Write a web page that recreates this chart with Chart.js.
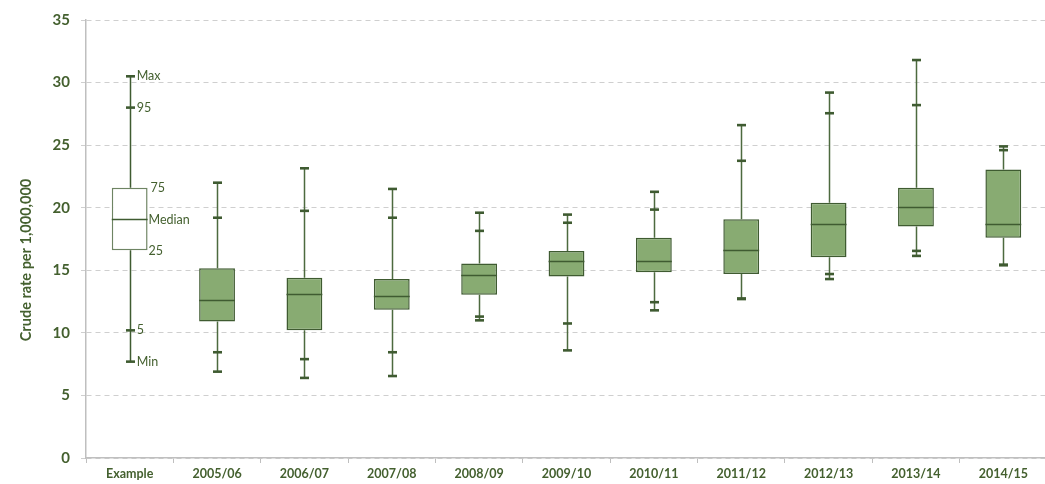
<!DOCTYPE html>
<html>
<head>
<meta charset="utf-8">
<script src="https://cdn.jsdelivr.net/npm/chart.js@4.4.1/dist/chart.umd.min.js"></script>
<style>
  html, body { margin: 0; padding: 0; background: #fff; overflow: hidden; }
  #wrap { width: 1047px; height: 484px; }
</style>
</head>
<body>
<div id="wrap"><canvas id="c" width="1047" height="484"></canvas></div>
<script>
// Crude rate per 1,000,000 — distribution summary per year
const categories = ['Example', '2005/06', '2006/07', '2007/08', '2008/09', '2009/10',
                    '2010/11', '2011/12', '2012/13', '2013/14', '2014/15'];
const minValues    = [7.7, 6.9, 6.4, 6.55, 11.0, 8.6, 11.8, 12.7, 14.3, 16.15, 15.4];
const p5Values     = [10.2, 8.45, 7.9, 8.45, 11.3, 10.75, 12.45, 12.75, 14.7, 16.55, 15.45];
const q1Values     = [16.6, 10.9, 10.2, 11.85, 13.05, 14.5, 14.85, 14.7, 16.05, 18.5, 17.6];
const medianValues = [19.1, 12.65, 13.1, 12.95, 14.6, 15.75, 15.72, 16.6, 18.72, 20.02, 18.67];
const q3Values     = [21.6, 15.17, 14.4, 14.3, 15.55, 16.55, 17.6, 19.07, 20.4, 21.6, 23.05];
const p95Values    = [28.0, 19.2, 19.75, 19.2, 18.15, 18.8, 19.85, 23.75, 27.55, 28.2, 24.6];
const maxValues    = [30.5, 22.0, 23.15, 21.5, 19.6, 19.45, 21.27, 26.6, 29.2, 31.8, 24.9];
const yTicks = [0, 5, 10, 15, 20, 25, 30, 35];
const yTitle = 'Crude rate per 1,000,000';
const keyLabels = { max: 'Max', p95: '95', q3: '75', median: 'Median', q1: '25', p5: '5', min: 'Min' };

const GREEN_TEXT = '#44602f';
const GREEN_DARK = '#3f5b31';
const BOX_FILL = '#88ab72';
const KEY_BORDER = '#6e8463';
const FONT = 'Lato, "Open Sans", "DejaVu Sans", sans-serif';

const boxData = categories.map((_, i) => [q1Values[i], q3Values[i]]);

// Whiskers behind the boxes, median lines and key labels over them
const boxPlotPlugin = {
  id: 'boxPlotParts',
  beforeDatasetsDraw(chart) {
    const { ctx, scales: { x, y } } = chart;
    ctx.save();
    categories.forEach((_, i) => {
      const cx = Math.round(x.getPixelForValue(i)) + 0.5;
      ctx.strokeStyle = i === 0 ? GREEN_DARK : '#4d6a3f';
      ctx.lineWidth = 1.5;
      ctx.beginPath();
      ctx.moveTo(cx, y.getPixelForValue(minValues[i]));
      ctx.lineTo(cx, y.getPixelForValue(q1Values[i]));
      ctx.moveTo(cx, y.getPixelForValue(q3Values[i]));
      ctx.lineTo(cx, y.getPixelForValue(maxValues[i]));
      ctx.stroke();
      ctx.strokeStyle = GREEN_DARK;
      ctx.lineWidth = 2.6;
      [minValues[i], p5Values[i], p95Values[i], maxValues[i]].forEach(v => {
        const py = y.getPixelForValue(v);
        ctx.beginPath();
        ctx.moveTo(cx - 4.5, py);
        ctx.lineTo(cx + 4.5, py);
        ctx.stroke();
      });
    });
    ctx.restore();
  },
  afterDatasetsDraw(chart) {
    const { ctx, scales: { x, y } } = chart;
    const meta = chart.getDatasetMeta(0);
    ctx.save();
    meta.data.forEach((bar, i) => {
      const half = bar.width / 2;
      const py = Math.round(y.getPixelForValue(medianValues[i])) + 0.5;
      ctx.strokeStyle = GREEN_DARK;
      ctx.lineWidth = 1.5;
      ctx.beginPath();
      ctx.moveTo(bar.x - half, py);
      ctx.lineTo(bar.x + half, py);
      ctx.stroke();
    });
    // key labels beside the example box
    const bar0 = meta.data[0];
    const cx = x.getPixelForValue(0);
    const boxRight = bar0.x + bar0.width / 2;
    ctx.fillStyle = GREEN_TEXT;
    ctx.font = '12.5px ' + FONT;
    ctx.textBaseline = 'middle';
    ctx.textAlign = 'left';
    ctx.fillText(keyLabels.max, cx + 7, y.getPixelForValue(maxValues[0]));
    ctx.fillText(keyLabels.p95, cx + 7, y.getPixelForValue(p95Values[0]));
    ctx.fillText(keyLabels.p5, cx + 7, y.getPixelForValue(p5Values[0]));
    ctx.fillText(keyLabels.min, cx + 7, y.getPixelForValue(minValues[0]));
    ctx.fillText(keyLabels.q3, boxRight + 3, y.getPixelForValue(q3Values[0]));
    ctx.fillText(keyLabels.median, boxRight + 1, y.getPixelForValue(medianValues[0]) + 1);
    ctx.fillText(keyLabels.q1, boxRight + 1, y.getPixelForValue(q1Values[0]) + 1);

    // vertical axis title, set slightly below the plot's middle
    ctx.save();
    ctx.translate(26, (y.top + y.bottom) / 2 + 21);
    ctx.rotate(-Math.PI / 2);
    ctx.textAlign = 'center';
    ctx.textBaseline = 'middle';
    ctx.font = 'bold 14.5px ' + FONT;
    ctx.fillText(yTitle, 0, 0);
    ctx.restore();
    ctx.restore();
  }
};

new Chart(document.getElementById('c'), {
  type: 'bar',
  data: {
    labels: categories,
    datasets: [{
      data: boxData,
      backgroundColor: categories.map((_, i) => i === 0 ? '#ffffff' : BOX_FILL),
      borderColor: categories.map((_, i) => i === 0 ? KEY_BORDER : GREEN_DARK),
      borderWidth: 1.5,
      borderSkipped: false,
      barPercentage: 0.41,
      categoryPercentage: 1.0
    }]
  },
  options: {
    responsive: false,
    animation: false,
    devicePixelRatio: 1,
    layout: { padding: { top: 10, right: 0, bottom: 0, left: 0 } },
    plugins: { legend: { display: false }, tooltip: { enabled: false } },
    scales: {
      x: {
        offset: true,
        grid: {
          offset: true,
          drawOnChartArea: false,
          color: '#bfbfbf',
          tickLength: 5,
          lineWidth: 1
        },
        border: { color: '#bfbfbf', width: 1.5 },
        ticks: {
          color: GREEN_TEXT,
          font: { family: FONT, size: 12.5, weight: 'bold' },
          padding: 3,
          maxRotation: 0
        }
      },
      y: {
        min: 0,
        max: 35,
        afterBuildTicks(axis) { axis.ticks = yTicks.map(v => ({ value: v })); },
        afterFit(axis) { axis.width = 86; },
        grid: {
          color: '#cfcfcf',
          lineWidth: 1,
          tickLength: 5,
          drawTicks: true
        },
        border: { color: '#bfbfbf', width: 1.5, dash: [5, 4] },
        ticks: {
          color: GREEN_TEXT,
          font: { family: FONT, size: 15, weight: 'bold' },
          padding: 11
        },
        title: { display: false }
      }
    }
  },
  plugins: [boxPlotPlugin]
});
</script>
</body>
</html>
